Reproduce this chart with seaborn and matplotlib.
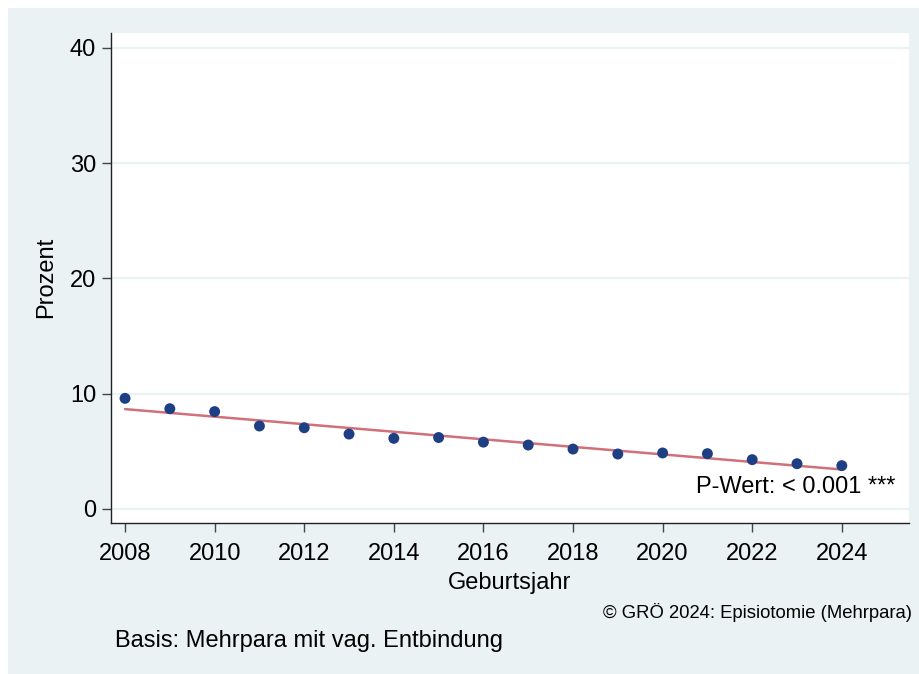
import numpy as np
import pandas as pd
import matplotlib
matplotlib.use("Agg")
import matplotlib.pyplot as plt
from matplotlib.patches import Rectangle
import seaborn as sns

years = [2008, 2009, 2010, 2011, 2012, 2013, 2014, 2015, 2016,
         2017, 2018, 2019, 2020, 2021, 2022, 2023, 2024]
percent = [9.6, 8.7, 8.45, 7.2, 7.05, 6.5, 6.13, 6.2, 5.8,
           5.55, 5.2, 4.77, 4.86, 4.8, 4.28, 3.93, 3.76]
x_ticks = [2008, 2010, 2012, 2014, 2016, 2018, 2020, 2022, 2024]
y_ticks = [0, 10, 20, 30, 40]

df = pd.DataFrame({"Geburtsjahr": years, "Prozent": percent})

sns.set_theme(style="white")
plt.rcParams['font.family'] = ['Liberation Sans', 'DejaVu Sans']

W, H = 920, 674
fig = plt.figure(figsize=(W / 100, H / 100), dpi=100)
fig.patch.set_facecolor("white")
bg = "#EAF2F3"
fig.add_artist(Rectangle((8 / W, 0), 1 - 8 / W, 1 - 8 / H, transform=fig.transFigure,
                         facecolor=bg, edgecolor="none", zorder=0))

ax = fig.add_axes([110.7 / W, 1 - 522.7 / H, (909 - 110.7) / W, (522.7 - 33) / H])
ax.set_facecolor("white")

for yt in y_ticks:
    ax.axhline(yt, color=bg, lw=1.6, zorder=0)

sns.regplot(data=df, x="Geburtsjahr", y="Prozent", ax=ax, ci=None, truncate=True,
            scatter_kws=dict(s=62, color="#1F3F85", edgecolor="none", alpha=1, zorder=3),
            line_kws=dict(color="#D0707A", lw=1.8, zorder=2))

ax.set_xlim(2007.68, 2025.5)
ax.set_ylim(-1.19, 41.3)
ax.set_xticks(x_ticks)
ax.set_yticks(y_ticks)
ax.tick_params(axis="both", which="both", direction="out", width=1,
               color="#444444", labelsize=17, labelcolor="black",
               bottom=True, left=True)
ax.tick_params(axis="x", length=6.5, pad=8)
ax.tick_params(axis="y", length=6.5, pad=4)

for s in ["top", "right"]:
    ax.spines[s].set_visible(False)
for s in ["left", "bottom"]:
    ax.spines[s].set_color("#222222")
    ax.spines[s].set_linewidth(1.0)

ax.set_xlabel("Geburtsjahr", fontsize=17, color="black", labelpad=5)
ax.set_ylabel("Prozent", fontsize=17, color="black", labelpad=9)

ax.text(0.9825, 0.072, "P-Wert: < 0.001 ***", transform=ax.transAxes,
        ha="right", va="center", fontsize=17, color="black")

fig.text(912 / W, 1 - 612 / H, "© GRÖ 2024: Episiotomie (Mehrpara)",
         ha="right", va="center", fontsize=13.3, color="black")
fig.text(115 / W, 1 - 641 / H, "Basis: Mehrpara mit vag. Entbindung",
         ha="left", va="center", fontsize=17, color="black")

fig.savefig("out.png", dpi=100, facecolor=fig.get_facecolor())
